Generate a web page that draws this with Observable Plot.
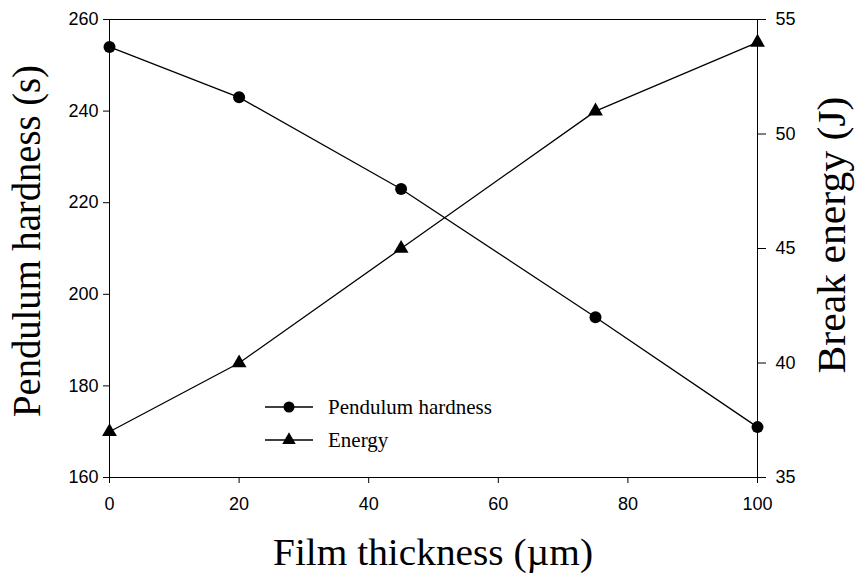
<!DOCTYPE html>
<html>
<head>
<meta charset="utf-8">
<script src="https://cdn.jsdelivr.net/npm/d3@7"></script>
<script src="https://cdn.jsdelivr.net/npm/@observablehq/plot@0.6"></script>
<style>
  html, body { margin: 0; padding: 0; background: #fff; }
</style>
</head>
<body>
<div id="chart"></div>
<script>
// ---- data ----
const thickness = [0, 20, 45, 75, 100];          // Film thickness (µm)
const hardness  = [254, 243, 223, 195, 171];     // Pendulum hardness (s)
const energy    = [37, 40, 45, 51, 54];          // Break energy (J)
const thicknessTicks = [0, 20, 40, 60, 80, 100];
const hardnessTicks  = [160, 180, 200, 220, 240, 260];
const energyTicks    = [35, 40, 45, 50, 55];
const hardnessDomain = [160, 260];
const energyDomain   = [35, 55];
const seriesNames = ["Pendulum hardness", "Energy"];

// map the right-axis (energy) values onto the left (hardness) scale
const toH = e => hardnessDomain[0] + (e - energyDomain[0]) * (hardnessDomain[1] - hardnessDomain[0]) / (energyDomain[1] - energyDomain[0]);
const toE = h => Math.round((energyDomain[0] + (h - hardnessDomain[0]) * (energyDomain[1] - energyDomain[0]) / (hardnessDomain[1] - hardnessDomain[0])) * 100) / 100;

const rows = thickness.map((t, i) => ({t, h: hardness[i], e: energy[i], eh: toH(energy[i])}));

const W = 855, H = 575;
const mL = 109, mR = 98, mT = 19, mB = 98;

const chart = Plot.plot({
  width: W, height: H,
  marginLeft: mL, marginRight: mR, marginTop: mT, marginBottom: mB,
  style: {fontFamily: "'Liberation Sans', Arial, sans-serif", fontSize: "18px", color: "black", background: "white", overflow: "visible"},
  x: {domain: [0, 100]},
  y: {domain: hardnessDomain},
  marks: [
    Plot.frame({stroke: "black", strokeWidth: 1}),
    Plot.axisX({ticks: thicknessTicks, tickSize: 6, tickPadding: 14, label: null, stroke: "black"}),
    Plot.axisY({ticks: hardnessTicks, tickSize: 6, tickPadding: 5, label: null, stroke: "black"}),
    Plot.axisY({anchor: "right", ticks: energyTicks.map(toH), tickFormat: h => String(toE(h)), tickSize: 8, tickPadding: 10, label: null, stroke: "black"}),
    Plot.line(rows, {x: "t", y: "h", stroke: "black", strokeWidth: 1.3}),
    Plot.dot(rows, {x: "t", y: "h", r: 6, fill: "black", stroke: "none", symbol: "circle"}),
    Plot.line(rows, {x: "t", y: "eh", stroke: "black", strokeWidth: 1.3}),
    Plot.dot(rows, {x: "t", y: "eh", r: 5.5, fill: "black", stroke: "none", symbol: "triangle"})
  ]
});

document.getElementById("chart").appendChild(chart);

// ---- titles and legend (real text) ----
const svg = d3.select(chart);
const serif = "'Liberation Serif', 'Times New Roman', serif";

svg.append("text")
  .attr("x", mL + (W - mL - mR) / 2).attr("y", 565)
  .attr("text-anchor", "middle")
  .attr("font-family", serif).attr("font-size", 38).attr("fill", "black")
  .attr("textLength", 320).attr("lengthAdjust", "spacingAndGlyphs")
  .text("Film thickness (µm)");

svg.append("text")
  .attr("transform", `translate(40,241) rotate(-90)`)
  .attr("text-anchor", "middle")
  .attr("font-family", serif).attr("font-size", 39).attr("fill", "black")
  .attr("textLength", 352).attr("lengthAdjust", "spacingAndGlyphs")
  .text("Pendulum hardness (s)");

svg.append("text")
  .attr("transform", `translate(845,235) rotate(-90)`)
  .attr("text-anchor", "middle")
  .attr("font-family", serif).attr("font-size", 39).attr("fill", "black")
  .attr("textLength", 277).attr("lengthAdjust", "spacingAndGlyphs")
  .text("Break energy (J)");

// legend
const leg = svg.append("g").attr("text-anchor", "start");
const legendRows = [
  {name: seriesNames[0], y: 407, sym: d3.symbolCircle, size: Math.PI * 5.5 * 5.5},
  {name: seriesNames[1], y: 440, sym: d3.symbolTriangle, size: Math.PI * 5 * 5}
];
legendRows.forEach(r => {
  leg.append("line").attr("x1", 265).attr("x2", 313).attr("y1", r.y).attr("y2", r.y)
    .attr("stroke", "black").attr("stroke-width", 1.3);
  leg.append("path").attr("d", d3.symbol(r.sym, r.size)()).attr("transform", `translate(289,${r.y})`).attr("fill", "black");
  leg.append("text").attr("x", 328).attr("y", r.y + 7)
    .attr("text-anchor", "start")
    .attr("font-family", serif).attr("font-size", 21).attr("fill", "black")
    .text(r.name);
});
</script>
</body>
</html>
